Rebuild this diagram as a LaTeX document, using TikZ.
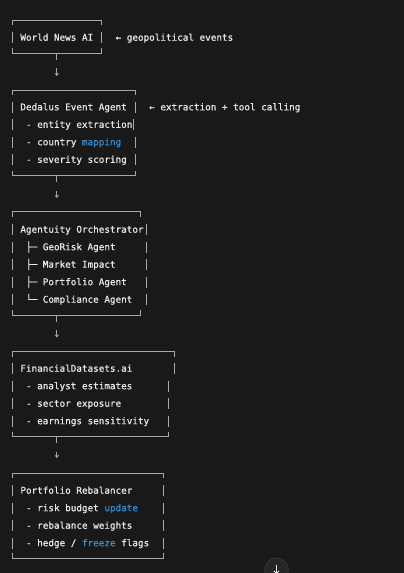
\documentclass[tikz,border=0pt]{standalone}
\usepackage{fontspec}
\setmonofont[FakeBold=0.7]{DejaVu Sans Mono}
\usetikzlibrary{arrows.meta}
\definecolor{bg}{HTML}{191919}
\definecolor{txt}{HTML}{E8E8E8}
\definecolor{rulec}{HTML}{A8A8A8}
\definecolor{hl}{HTML}{3A8AC9}
\definecolor{btn}{HTML}{262626}
\definecolor{btnedge}{HTML}{3A3A3A}
\tikzset{
  row/.style={anchor=base west, inner sep=0pt, outer sep=0pt, text=txt,
    font=\ttfamily\fontsize{9.3}{11}\selectfont},
  frame/.style={draw=rulec, line width=0.8pt},
  flow/.style={draw=rulec, line width=0.8pt, dash pattern=on 6.5pt off 8.5pt on 8pt,
    -{Stealth[length=3pt,width=4.5pt]}},
}
\newcommand{\vbarat}[2]{\draw[frame] (#1,#2-8.5) -- (#1,#2+2.5);}
\newcommand{\topedge}[2]{\draw[frame] (12,#1+5) -- (12,#1) -- (#2,#1) -- (#2,#1+5);}
\newcommand{\botedge}[2]{\draw[frame] (12,#1-5) -- (12,#1) -- (#2,#1) -- (#2,#1-5);}
\begin{document}
\begin{tikzpicture}[x=1pt,y=-1pt]
\useasboundingbox (0,0) rectangle (404,573);
\fill[bg] (0,0) rectangle (404,573);

% ---- Box 1
\topedge{20}{101.6}
\node[row] (b1r1) at (20.4,40.7) {World News AI};
\vbarat{12}{40.7}\vbarat{101.6}{40.7}
\botedge{53.3}{101.6}
\node[row] (l1) at (115.6,40.7) {← geopolitical events};

% ---- Box 2
\topedge{90}{135.2}
\node[row] (b2r1) at (20.4,110.3) {Dedalus Event Agent};
\node[row] (b2r2) at (26,127.8) {- entity extraction};
\node[row] (b2r3) at (26,145.3) {- country \textcolor{hl}{mapping}};
\node[row] (b2r4) at (26,162.8) {- severity scoring};
\vbarat{12}{110.3}\vbarat{135.2}{110.3}
\vbarat{12}{127.8}\vbarat{133}{127.8}
\vbarat{12}{145.3}\vbarat{135.2}{145.3}
\vbarat{12}{162.8}\vbarat{135.2}{162.8}
\botedge{175.5}{135.2}
\node[row] (l2) at (149.2,110.3) {← extraction + tool calling};

% ---- Box 3
\topedge{211.5}{140.8}
\node[row] (b3r1) at (20.4,232.7) {Agentuity Orchestrator};
\node[row] (b3r2) at (26,250.2) {├─ GeoRisk Agent};
\node[row] (b3r3) at (26,267.7) {├─ Market Impact};
\node[row] (b3r4) at (26,285.2) {├─ Portfolio Agent};
\node[row] (b3r5) at (26,302.7) {└─ Compliance Agent};
\foreach \yy in {232.7,250.2,267.7,285.2,302.7}{\vbarat{12}{\yy}\vbarat{146.4}{\yy}}
\botedge{315}{140.8}

% ---- Box 4
\topedge{351.5}{174.4}
\node[row] (b4r1) at (20.4,371.7) {FinancialDatasets.ai};
\node[row] (b4r2) at (26,389.2) {- analyst estimates};
\node[row] (b4r3) at (26,406.7) {- sector exposure};
\node[row] (b4r4) at (26,424.2) {- earnings sensitivity};
\vbarat{12}{371.7}\vbarat{174.4}{371.7}
\foreach \yy in {389.2,406.7,424.2}{\vbarat{12}{\yy}\vbarat{168.8}{\yy}}
\botedge{436.7}{168.8}

% ---- Box 5
\topedge{473.3}{163.2}
\node[row] (b5r1) at (20.4,493.7) {Portfolio Rebalancer};
\node[row] (b5r2) at (26,511.2) {- risk budget \textcolor{hl}{update}};
\node[row] (b5r3) at (26,528.7) {- rebalance weights};
\node[row] (b5r4) at (26,546.2) {- hedge / \textcolor{hl}{freeze} flags};
\foreach \yy in {493.7,511.2,528.7,546.2}{\vbarat{12}{\yy}\vbarat{163.2}{\yy}}
\botedge{558.3}{163.2}

% ---- connectors
\coordinate (c1s) at (56.8,53.3);  \coordinate (c1e) at (56.8,76);
\coordinate (c2s) at (56.8,175.5); \coordinate (c2e) at (56.8,198);
\coordinate (c3s) at (56.8,315);   \coordinate (c3e) at (56.8,337.5);
\coordinate (c4s) at (56.8,436.7); \coordinate (c4e) at (56.8,458);
\draw[flow] (c1s) -- (c1e);
\draw[flow] (c2s) -- (c2e);
\draw[flow] (c3s) -- (c3e);
\draw[flow] (c4s) -- (c4e);

% ---- scroll button
\node[circle, minimum size=24pt, inner sep=0pt, fill=btn, draw=btnedge, line width=0.6pt] (btn) at (276.5,570) {};
\coordinate (btna) at (276.5,564.5);
\coordinate (btnb) at (276.5,574);
\draw[draw=txt, line width=0.8pt, -{Straight Barb[length=2.5pt,width=5pt]}] (btna) -- (btnb);
\end{tikzpicture}
\end{document}
